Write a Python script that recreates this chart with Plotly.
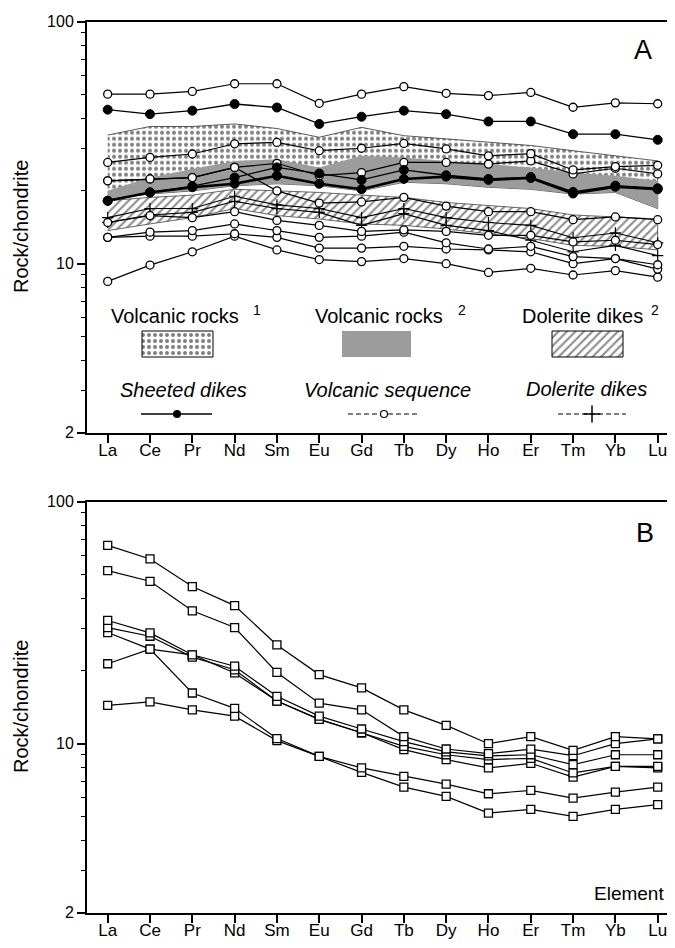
import plotly.graph_objects as go
import math

# ---------------- data ----------------
elements = ["La", "Ce", "Pr", "Nd", "Sm", "Eu", "Gd", "Tb", "Dy", "Ho", "Er", "Tm", "Yb", "Lu"]

# Panel A : fields (bands)
volc1_upper = [34.0, 36.9, 36.9, 37.8, 36.2, 33.3, 36.6, 33.8, 32.8, 31.7, 30.8, 29.3, 27.9, 26.6]
volc1_lower = [18.5, 19.4, 20.0, 21.0, 21.4, 21.0, 20.0, 21.7, 21.4, 20.7, 20.3, 19.4, 19.7, 16.9]
volc2_upper = [20.0, 22.7, 24.6, 26.6, 27.0, 25.0, 27.9, 27.5, 26.6, 25.8, 25.0, 23.8, 23.1, 22.0]
volc2_lower = [18.5, 19.4, 20.0, 21.0, 21.4, 21.0, 20.0, 21.7, 21.4, 20.7, 20.3, 19.4, 19.7, 16.9]
dol_upper = [18.2, 18.8, 19.2, 20.3, 20.0, 19.7, 19.2, 18.8, 17.9, 17.4, 16.9, 15.9, 15.6, 15.3]
dol_lower = [13.7, 14.6, 15.5, 16.9, 15.8, 15.3, 14.6, 14.4, 13.9, 13.3, 12.7, 11.9, 11.8, 11.4]

# Panel A : sheeted dikes
sheeted_1 = [43.3, 41.5, 42.9, 45.7, 44.2, 37.8, 40.5, 42.9, 41.5, 38.7, 38.7, 34.3, 34.3, 32.5]
sheeted_2 = [18.2, 19.7, 20.7, 21.4, 23.1, 21.4, 20.3, 22.4, 22.9, 22.2, 22.6, 19.5, 20.8, 20.3]
sheeted_3 = [18.2, 19.7, 20.9, 22.7, 25.0, 23.6, 22.2, 24.4, 23.2, 22.4, 22.8, 19.8, 21.0, 20.5]

# Panel A : volcanic sequence
volcseq_1 = [50.2, 50.2, 51.5, 55.4, 55.4, 46.0, 50.2, 53.9, 50.6, 49.5, 51.0, 44.3, 46.2, 45.8]
volcseq_2 = [26.2, 27.5, 28.4, 31.3, 31.7, 29.3, 30.0, 31.4, 29.8, 27.9, 28.5, 24.4, 25.2, 25.5]
volcseq_3 = [22.0, 22.4, 22.7, 25.0, 26.0, 23.1, 23.8, 26.2, 26.2, 25.8, 26.6, 23.5, 24.8, 23.5]
volcseq_4 = [22.0, 22.4, 22.7, 25.0, 20.0, 17.8, 18.0, 18.8, 17.3, 16.4, 16.4, 15.2, 15.6, 15.2]
volcseq_5 = [14.8, 15.8, 15.5, 16.4, 15.1, 14.4, 13.6, 13.8, 13.6, 13.1, 13.1, 12.3, 12.5, 12.0]
volcseq_6 = [12.85, 13.5, 13.7, 14.6, 13.7, 12.85, 13.0, 13.5, 12.2, 11.5, 11.8, 10.7, 10.5, 9.9]
volcseq_7 = [12.85, 13.0, 13.0, 13.3, 12.85, 11.6, 11.6, 11.8, 11.5, 11.4, 11.2, 10.0, 10.5, 9.5]
volcseq_8 = [8.45, 9.87, 11.2, 13.0, 11.4, 10.4, 10.2, 10.5, 10.0, 9.2, 9.57, 8.98, 9.36, 8.8]

# Panel A : dolerite dikes
dolerite_1 = [15.5, 16.9, 16.9, 19.0, 17.5, 16.9, 15.5, 16.9, 15.5, 14.8, 14.4, 12.8, 13.4, 12.2]
dolerite_2 = [14.8, 15.9, 16.3, 18.1, 16.9, 16.3, 14.4, 16.1, 14.4, 13.7, 12.5, 11.2, 11.9, 10.8]

# Panel B
b_1 = [66.0, 58.0, 44.6, 37.2, 25.6, 19.3, 17.0, 13.8, 11.9, 10.0, 10.7, 9.39, 10.7, 10.46]
b_2 = [51.9, 46.9, 35.4, 30.2, 19.7, 14.7, 13.8, 10.7, 9.51, 9.1, 9.5, 8.92, 10.0, 10.46]
b_3 = [32.3, 28.7, 23.3, 20.9, 15.7, 13.0, 11.5, 10.2, 9.25, 8.9, 9.0, 8.19, 9.0, 9.0]
b_4 = [30.2, 27.8, 22.8, 20.2, 15.0, 12.6, 11.1, 9.75, 9.0, 8.6, 8.7, 7.57, 8.06, 8.06]
b_5 = [21.4, 24.6, 23.3, 19.6, 15.0, 12.6, 11.1, 9.45, 8.59, 7.94, 8.3, 7.28, 8.06, 7.94]
b_6 = [28.8, 24.6, 16.2, 14.0, 10.5, 8.86, 7.94, 7.33, 6.81, 6.21, 6.41, 5.96, 6.31, 6.62]
b_7 = [14.4, 14.9, 13.8, 13.0, 10.3, 8.86, 7.61, 6.62, 6.06, 5.17, 5.35, 5.01, 5.35, 5.6]

y_ticks = [2, 10, 100]
y_minor = [3, 4, 5, 6, 7, 8, 9, 20, 30, 40, 50, 60, 70, 80, 90]

# ---------------- figure ----------------
# the page body has an 8px margin: the figure is drawn 8px in from the window corner
OFF = 8
WIN_W, WIN_H = 675, 948
W, H = WIN_W - OFF, WIN_H - OFF
FONT = "Liberation Sans, Arial, Helvetica, sans-serif"
GRAY = "#9c9c9c"
idx = list(range(len(elements)))


def fx(p):  # window pixel -> paper x
    return (p - OFF) / W


def fy(p):  # window pixel -> paper y
    return 1 - (p - OFF) / H


fig = go.Figure()

DOTS = dict(shape=".", size=6, solidity=0.35, fgcolor="black", bgcolor="white")
HATCH = dict(shape="/", size=6, solidity=0.36, fgcolor="#1a1a1a", bgcolor="white")


def band(upper, lower, xa, ya, **kw):
    xs = idx + idx[::-1]
    ys = list(upper) + list(lower)[::-1]
    fig.add_trace(go.Scatter(x=xs, y=ys, mode="lines", fill="toself",
                             xaxis=xa, yaxis=ya, hoverinfo="skip", **kw))


# bands panel A
band(volc1_upper, volc1_lower, "x", "y",
     line=dict(color="#333333", width=0.8), fillcolor="white", fillpattern=DOTS)
band(volc2_upper, volc2_lower, "x", "y", line=dict(width=0), fillcolor=GRAY)
band(dol_upper, dol_lower, "x", "y",
     line=dict(color="#444444", width=0.8), fillcolor="white", fillpattern=HATCH)

open_circ = dict(symbol="circle", size=8, color="white", line=dict(color="black", width=1.3))
filled_circ = dict(symbol="circle", size=9, color="black", line=dict(color="black", width=1))
plus = dict(symbol="cross-thin", size=8, color="black", line=dict(color="black", width=1.2))
sq = dict(symbol="square", size=8, color="white", line=dict(color="black", width=1.3))

for s in [dolerite_1, dolerite_2]:
    fig.add_trace(go.Scatter(x=idx, y=s, mode="lines+markers", marker=plus,
                             line=dict(color="black", width=1.1), xaxis="x", yaxis="y"))
for s in [volcseq_8, volcseq_7, volcseq_6, volcseq_5, volcseq_4, volcseq_3, volcseq_2, volcseq_1]:
    fig.add_trace(go.Scatter(x=idx, y=s, mode="lines+markers", marker=open_circ,
                             line=dict(color="black", width=1.2), xaxis="x", yaxis="y"))
fig.add_trace(go.Scatter(x=idx, y=sheeted_3, mode="lines+markers", marker=filled_circ,
                         line=dict(color="black", width=1.3), xaxis="x", yaxis="y"))
fig.add_trace(go.Scatter(x=idx, y=sheeted_2, mode="lines+markers", marker=filled_circ,
                         line=dict(color="black", width=2.6), xaxis="x", yaxis="y"))
fig.add_trace(go.Scatter(x=idx, y=sheeted_1, mode="lines+markers", marker=filled_circ,
                         line=dict(color="black", width=1.3), xaxis="x", yaxis="y"))

# panel B
for s in [b_7, b_6, b_5, b_4, b_3, b_2, b_1]:
    fig.add_trace(go.Scatter(x=idx, y=s, mode="lines+markers", marker=sq,
                             line=dict(color="black", width=1.2), xaxis="x2", yaxis="y2"))

# ---------------- legend drawing (overlay axes in window pixels) ----------------
def box(x0, x1, y0, y1, **kw):
    fig.add_trace(go.Scatter(x=[x0, x1, x1, x0, x0], y=[y0, y0, y1, y1, y0], mode="lines",
                             fill="toself", xaxis="x3", yaxis="y3", hoverinfo="skip", **kw))


box(142, 213, 331, 357, line=dict(color="black", width=1), fillcolor="white", fillpattern=DOTS)
box(342, 411, 331, 357, line=dict(width=0), fillcolor=GRAY)
box(552, 623, 331, 357, line=dict(color="black", width=1), fillcolor="white", fillpattern=HATCH)

fig.add_trace(go.Scatter(x=[141, 212], y=[414, 414], mode="lines",
                         line=dict(color="black", width=1.5), xaxis="x3", yaxis="y3"))
fig.add_trace(go.Scatter(x=[177], y=[414], mode="markers",
                         marker=dict(symbol="circle", size=8, color="black"), xaxis="x3", yaxis="y3"))
fig.add_trace(go.Scatter(x=[348, 418], y=[414, 414], mode="lines",
                         line=dict(color="black", width=1.2, dash="5px,3px"), xaxis="x3", yaxis="y3"))
fig.add_trace(go.Scatter(x=[384], y=[414], mode="markers",
                         marker=dict(symbol="circle", size=7, color="white",
                                     line=dict(color="black", width=1.2)), xaxis="x3", yaxis="y3"))
fig.add_trace(go.Scatter(x=[558, 626], y=[414, 414], mode="lines",
                         line=dict(color="black", width=1.2, dash="5px,3px"), xaxis="x3", yaxis="y3"))
fig.add_trace(go.Scatter(x=[592], y=[414], mode="markers",
                         marker=dict(symbol="cross-thin", size=12, color="black",
                                     line=dict(color="black", width=1.5)), xaxis="x3", yaxis="y3"))

# ---------------- axes ----------------
x_left = 87
x_per = (657.7 - 107.7) / 13
xr = [-(107.7 - x_left) / x_per, 13 + (WIN_W - 657.7) / x_per]

yA_top, yA_bot = 21.7, 21.7 + 242 * math.log10(50)
yB_top, yB_bot = 501.7, 501.7 + 242 * math.log10(50)

common_x = dict(range=xr, tickvals=idx, ticktext=elements, ticks="outside", ticklen=8,
                tickwidth=1.5, tickcolor="black", showline=True, linewidth=2,
                linecolor="black", mirror=True, showgrid=False, zeroline=False,
                tickfont=dict(family=FONT, size=17, color="black"),
                ticklabelstandoff=-7,
                domain=[fx(x_left), 1.0], fixedrange=True, automargin=False)
common_y = dict(type="log", range=[math.log10(2), 2], tickvals=y_ticks,
                ticktext=[str(v) for v in y_ticks], ticks="outside", ticklen=8,
                tickwidth=1.5, tickcolor="black", showline=True, linewidth=2,
                linecolor="black", mirror=False, showgrid=False, zeroline=False,
                tickfont=dict(family=FONT, size=16, color="black"),
                minor=dict(tickvals=y_minor, ticks="outside", ticklen=4, tickwidth=1,
                           tickcolor="black", showgrid=False),
                fixedrange=True, automargin=False)

fig.update_layout(
    width=W, height=H,
    margin=dict(l=0, r=0, t=0, b=0, pad=0),
    paper_bgcolor="white", plot_bgcolor="rgba(0,0,0,0)",
    showlegend=False,
    xaxis=dict(**common_x, anchor="y"),
    yaxis=dict(**common_y, anchor="x", domain=[fy(yA_bot), fy(yA_top)]),
    xaxis2=dict(**common_x, anchor="y2"),
    yaxis2=dict(**common_y, anchor="x2", domain=[fy(yB_bot), fy(yB_top)]),
    xaxis3=dict(domain=[0, 1], range=[OFF, OFF + W], visible=False, anchor="y3",
                fixedrange=True, automargin=False),
    yaxis3=dict(domain=[0, 1], range=[OFF + H, OFF], visible=False, anchor="x3",
                fixedrange=True, automargin=False),
)

ann = []


def text(x, y, t, size=20, **kw):
    ann.append(dict(x=x, y=y, xref="x3", yref="y3", text=t, showarrow=False,
                    font=dict(family=FONT, size=size, color="black"), **kw))


text(21, 227, "Rock/chondrite", size=20, textangle=-90)
text(21, 707, "Rock/chondrite", size=20, textangle=-90)
text(643, 50, "A", size=27)
text(645, 533, "B", size=27)
text(666, 893, "Element", size=19, xanchor="right")

text(175, 316, "Volcanic rocks")
text(257, 310, "1", size=14)
text(379, 316, "Volcanic rocks")
text(462, 310, "2", size=14)
text(582, 316, "Dolerite dikes")
text(655, 310, "2", size=14)

text(183, 390, "<i>Sheeted dikes</i>")
text(387, 390, "<i>Volcanic sequence</i>")
text(586, 389, "<i>Dolerite dikes</i>")

fig.update_layout(annotations=ann)

fig.write_html("out.html")
